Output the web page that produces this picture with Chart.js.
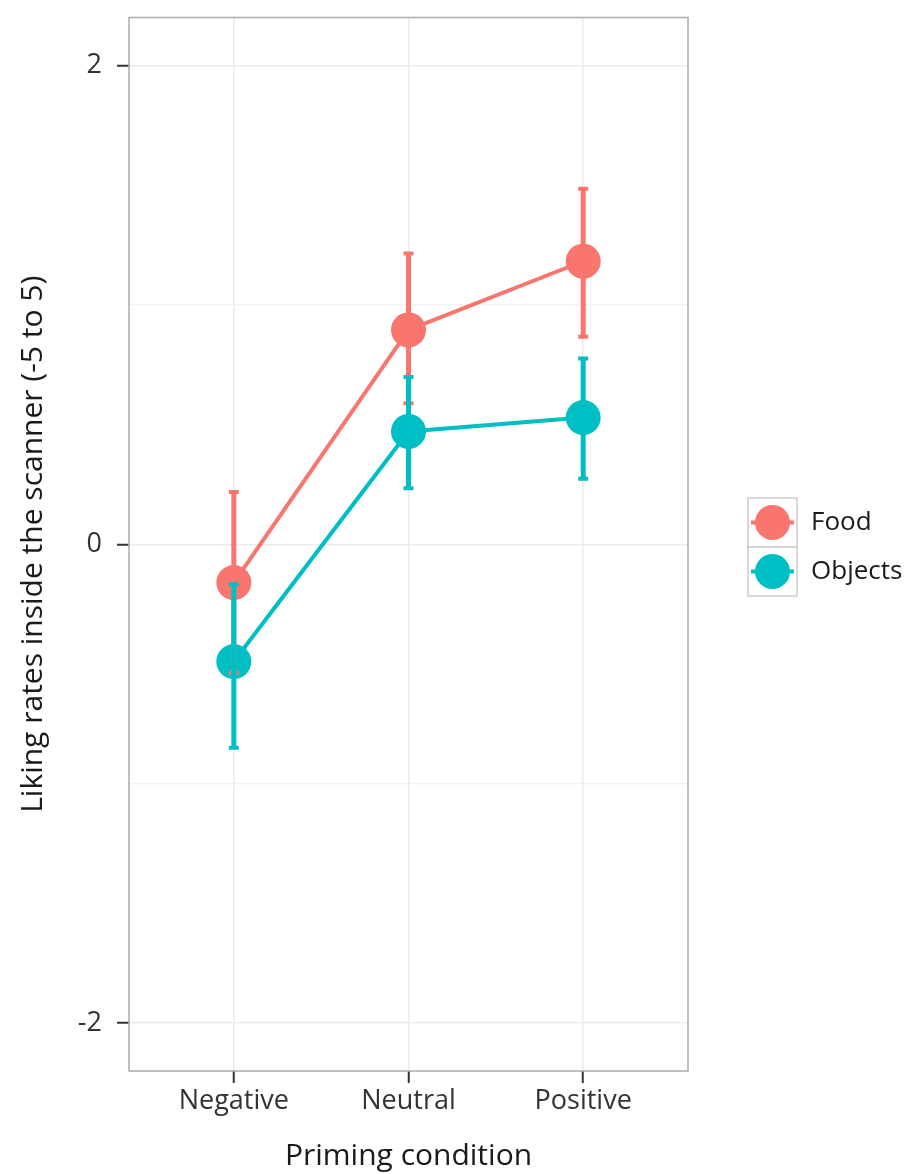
<!DOCTYPE html>
<html>
<head>
<meta charset="utf-8">
<script src="https://cdn.jsdelivr.net/npm/chart.js@4.4.1/dist/chart.umd.min.js"></script>
<style>
  html, body { margin: 0; padding: 0; background: #ffffff; }
  #wrap { width: 906px; height: 1174px; position: relative; }
</style>
</head>
<body>
<div id="wrap"><canvas id="chart" width="906" height="1174"></canvas></div>
<script>
// Priming conditions on the x axis
const categories = ['Negative', 'Neutral', 'Positive'];

// Mean liking ratings with error-bar limits
const foodMean = [-0.16, 0.895, 1.182];
const foodLow = [-0.537, 0.589, 0.867];
const foodHigh = [0.218, 1.214, 1.485];

const objectsMean = [-0.49, 0.471, 0.529];
const objectsLow = [-0.85, 0.234, 0.274];
const objectsHigh = [-0.167, 0.699, 0.776];

const yTickLabels = { '-2': '-2', '0': '0', '2': '2' };

const seriesNames = ['Food', 'Objects'];
const seriesColors = ['#F8766D', '#00BFC4'];

const FONT = '"Open Sans", "Noto Sans", sans-serif';

function toPoints(vals) {
  return vals.map((v, i) => ({ x: i, y: v }));
}

// Error bars, panel border and legend drawn with the chart's own scales
const extras = {
  id: 'extras',
  afterDatasetsDraw(chart) {
    const { ctx, scales: { x, y } } = chart;
    const bars = [[foodLow, foodHigh], [objectsLow, objectsHigh]];
    bars.forEach(([lo, hi], s) => {
      ctx.save();
      ctx.strokeStyle = seriesColors[s];
      ctx.lineCap = 'butt';
      lo.forEach((l, i) => {
        const px = x.getPixelForValue(i);
        const p1 = y.getPixelForValue(l);
        const p2 = y.getPixelForValue(hi[i]);
        ctx.lineWidth = 5;
        ctx.beginPath();
        ctx.moveTo(px, p1);
        ctx.lineTo(px, p2);
        ctx.stroke();
        ctx.lineWidth = 4;
        ctx.beginPath();
        ctx.moveTo(px - 5, p1); ctx.lineTo(px + 5, p1);
        ctx.moveTo(px - 5, p2); ctx.lineTo(px + 5, p2);
        ctx.stroke();
      });
      ctx.restore();
    });
  },
  afterDraw(chart) {
    const { ctx, chartArea: a } = chart;
    ctx.save();
    // panel border
    ctx.strokeStyle = '#ababab';
    ctx.lineWidth = 1.5;
    ctx.strokeRect(a.left, a.top, a.right - a.left, a.bottom - a.top);

    // legend keys
    const lx = 748, ly = 498, kw = 49, kh = 49;
    seriesNames.forEach((name, i) => {
      const top = ly + i * kh;
      ctx.fillStyle = '#ffffff';
      ctx.fillRect(lx, top, kw, kh);
      ctx.strokeStyle = '#cccccc';
      ctx.lineWidth = 1.5;
      ctx.strokeRect(lx, top, kw, kh);
      const cx = lx + kw / 2, cy = top + kh / 2;
      ctx.strokeStyle = seriesColors[i];
      ctx.lineWidth = 4;
      ctx.beginPath();
      ctx.moveTo(lx + 3, cy); ctx.lineTo(lx + kw - 3, cy);
      ctx.stroke();
      ctx.fillStyle = seriesColors[i];
      ctx.beginPath();
      ctx.arc(cx, cy, 17.5, 0, Math.PI * 2);
      ctx.fill();
      ctx.fillStyle = '#1a1a1a';
      ctx.font = '26px ' + FONT;
      ctx.textAlign = 'left';
      ctx.textBaseline = 'middle';
      ctx.fillText(name, 811, cy);
    });
    ctx.restore();
  }
};

const datasets = [objectsMean, foodMean].map((vals, k) => {
  const s = k === 0 ? 1 : 0;
  return {
    label: seriesNames[s],
    data: toPoints(vals),
    borderColor: seriesColors[s],
    backgroundColor: seriesColors[s],
    borderWidth: 4,
    pointRadius: 17.5,
    pointHoverRadius: 17.5,
    pointBorderWidth: 0,
    tension: 0
  };
});

new Chart(document.getElementById('chart'), {
  type: 'line',
  data: { datasets },
  options: {
    responsive: false,
    animation: false,
    events: [],
    layout: { padding: { top: 15, right: 218, left: 0, bottom: 0 } },
    plugins: { legend: { display: false }, tooltip: { enabled: false } },
    scales: {
      x: {
        type: 'linear',
        min: -0.6,
        max: 2.6,
        afterFit(scale) {
          scale.height = 103;
          scale.paddingLeft = 0;
          scale.paddingRight = 0;
        },
        border: { display: false },
        grid: {
          color: '#ebebeb',
          lineWidth: 1.5,
          drawTicks: true,
          tickLength: 12,
          tickColor: '#333333',
          tickWidth: 2
        },
        ticks: {
          stepSize: 1,
          includeBounds: false,
          padding: 2,
          color: '#333333',
          font: { family: FONT, size: 27 },
          maxRotation: 0,
          callback: (v) => categories[v] ?? ''
        },
        title: {
          display: true,
          text: 'Priming condition',
          color: '#1a1a1a',
          font: { family: FONT, size: 30 },
          padding: { top: 0, bottom: 0 }
        }
      },
      y: {
        type: 'linear',
        min: -2.2,
        max: 2.2,
        afterFit(scale) {
          scale.width = 129;
          scale.paddingTop = 0;
          scale.paddingBottom = 0;
        },
        border: { display: false },
        grid: {
          color: (c) => (Math.abs(c.tick.value % 2) === 1 ? '#f3f3f3' : '#ebebeb'),
          lineWidth: 1.5,
          drawTicks: true,
          tickLength: 12,
          tickColor: (c) => (Math.abs(c.tick.value % 2) === 1 ? 'rgba(0,0,0,0)' : '#333333'),
          tickWidth: 2
        },
        ticks: {
          stepSize: 1,
          includeBounds: false,
          padding: 15,
          color: '#333333',
          font: { family: FONT, size: 27 },
          callback: (v) => yTickLabels[String(v)] ?? ''
        },
        title: {
          display: true,
          text: 'Liking rates inside the scanner (-5 to 5)',
          color: '#1a1a1a',
          font: { family: FONT, size: 30 },
          padding: { top: 15, bottom: 0 }
        }
      }
    }
  },
  plugins: [extras]
});
</script>
</body>
</html>
